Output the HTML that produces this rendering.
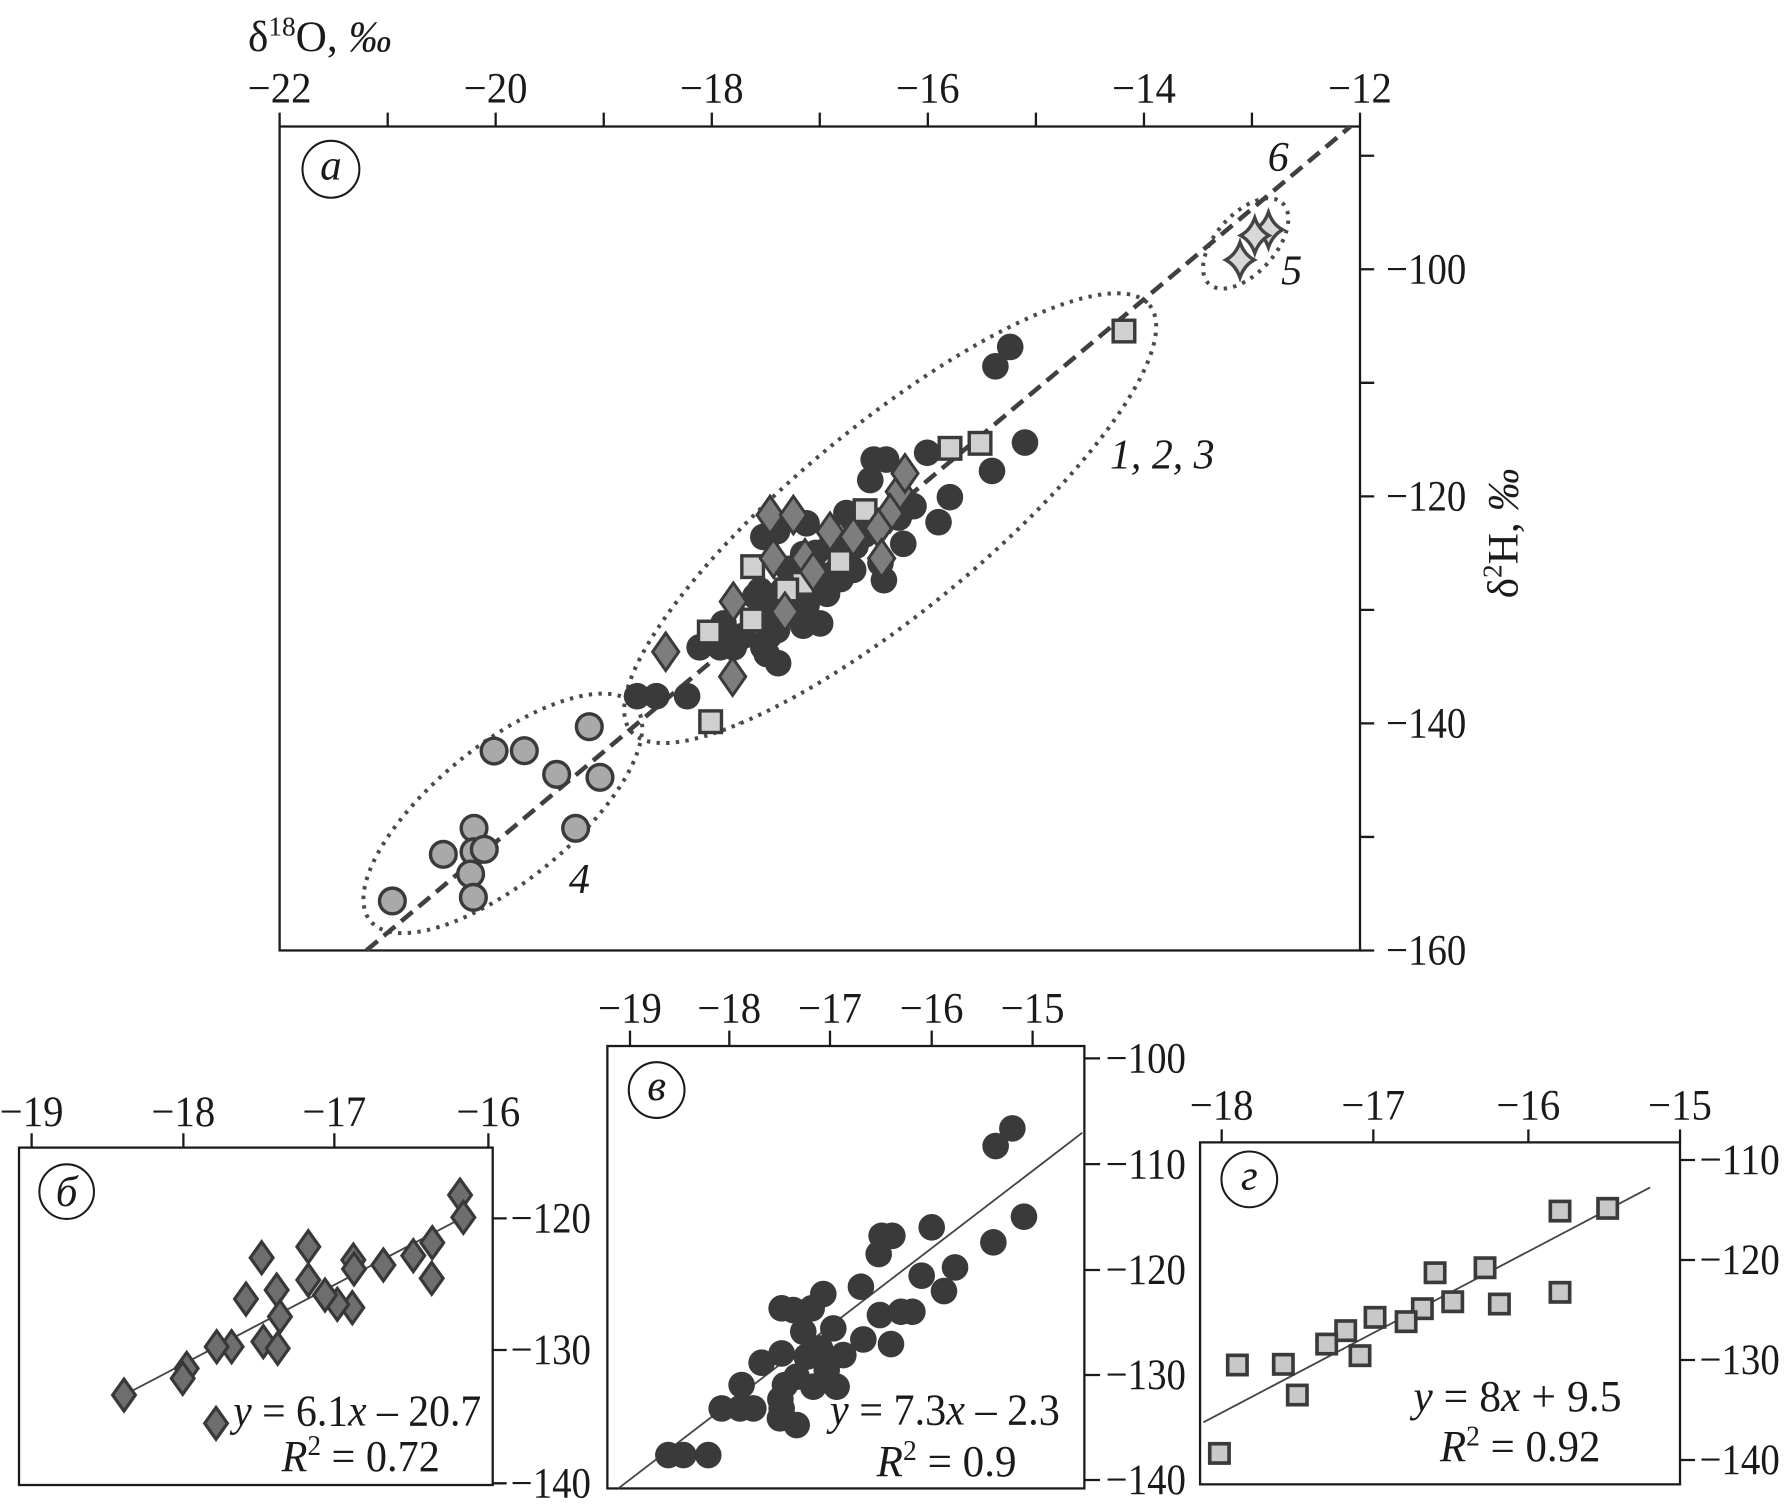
<!DOCTYPE html>
<html>
<head>
<meta charset="utf-8">
<style>
html,body{margin:0;padding:0;background:#ffffff;}
svg{display:block;}
svg text{font-family:"Liberation Serif","DejaVu Serif",serif;}
</style>
</head>
<body>
<svg width="1784" height="1508" viewBox="0 0 1568.2 1325.6" preserveAspectRatio="none" xmlns="http://www.w3.org/2000/svg" fill="#1a1a1a">
<rect x="0" y="0" width="1568.2" height="1325.6" fill="#ffffff"/>

<!-- ============ MAIN PANEL (a) ============ -->
<g stroke="#1a1a1a" stroke-width="2" fill="none">
  <rect x="245.8" y="111.2" width="949.7" height="724.3"/>
  <path d="M245.8,111.2V99 M340.8,111.2V99 M435.7,111.2V99 M530.7,111.2V99 M625.7,111.2V99 M720.6,111.2V99 M815.6,111.2V99 M910.6,111.2V99 M1005.6,111.2V99 M1100.5,111.2V99 M1195.5,111.2V99"/>
  <path d="M1195.5,136.9H1208 M1195.5,236.7H1208 M1195.5,336.5H1208 M1195.5,436.3H1208 M1195.5,536.1H1208 M1195.5,635.9H1208 M1195.5,735.7H1208 M1195.5,835.5H1208"/>
</g>
<g font-size="38" text-anchor="middle">
  <text x="245.8" y="90" textLength="56" lengthAdjust="spacingAndGlyphs">−22</text>
  <text x="435.7" y="90" textLength="56" lengthAdjust="spacingAndGlyphs">−20</text>
  <text x="625.7" y="90" textLength="56" lengthAdjust="spacingAndGlyphs">−18</text>
  <text x="815.6" y="90" textLength="56" lengthAdjust="spacingAndGlyphs">−16</text>
  <text x="1005.6" y="90" textLength="56" lengthAdjust="spacingAndGlyphs">−14</text>
  <text x="1195.5" y="90" textLength="56" lengthAdjust="spacingAndGlyphs">−12</text>
</g>
<g font-size="38">
  <text x="1218.5" y="249.2" textLength="70.5" lengthAdjust="spacingAndGlyphs">−100</text>
  <text x="1218.5" y="448.8" textLength="70.5" lengthAdjust="spacingAndGlyphs">−120</text>
  <text x="1218.5" y="648.4" textLength="70.5" lengthAdjust="spacingAndGlyphs">−140</text>
  <text x="1218.5" y="848" textLength="70.5" lengthAdjust="spacingAndGlyphs">−160</text>
</g>
<!-- axis titles -->
<text x="218" y="45" font-size="38">δ<tspan font-size="24" dy="-14">18</tspan><tspan dy="14">O, </tspan><tspan font-style="italic">‰</tspan></text>
<text x="1334" y="468.8" font-size="38" text-anchor="middle" transform="rotate(-90 1334 468.8)">δ<tspan font-size="24" dy="-14">2</tspan><tspan dy="14">H, </tspan><tspan font-style="italic">‰</tspan></text>

<!-- panel label a -->
<circle cx="290.9" cy="148.8" r="25" fill="none" stroke="#1a1a1a" stroke-width="1.8"/>
<text x="290.9" y="158" font-size="38" font-style="italic" text-anchor="middle">а</text>

<!-- dotted ellipses -->
<g fill="none" stroke="#4a4a4a" stroke-width="3.5" stroke-dasharray="3 5.5">
  <ellipse cx="782.5" cy="455.5" rx="295" ry="82" transform="rotate(-39.4 782.5 455.5)"/>
  <ellipse cx="442" cy="715" rx="150" ry="60" transform="rotate(-39 442 715)"/>
  <ellipse cx="1095" cy="214" rx="48" ry="26" transform="rotate(-48 1095 214)"/>
</g>
<!-- dashed line -->
<line x1="322" y1="835.5" x2="1187" y2="111.2" stroke="#404040" stroke-width="4" stroke-dasharray="13 7"/>

<!-- dark circles -->
<g fill="#3a3a3a">
  <circle cx="888" cy="305" r="11.7"/><circle cx="875" cy="322" r="11.7"/>
  <circle cx="901" cy="389" r="11.7"/><circle cx="872" cy="414" r="11.7"/>
  <circle cx="835" cy="437" r="11.7"/><circle cx="825" cy="459" r="11.7"/>
  <circle cx="815" cy="398" r="11.7"/><circle cx="768" cy="404" r="11.7"/>
  <circle cx="779" cy="404" r="11.7"/><circle cx="765" cy="422" r="11.7"/>
  <circle cx="803" cy="445" r="11.7"/><circle cx="794" cy="478" r="11.7"/>
  <circle cx="777" cy="510" r="11.7"/><circle cx="774" cy="495" r="11.7"/>
  <circle cx="750" cy="457" r="11.7"/><circle cx="744" cy="451" r="11.7"/>
  <circle cx="750" cy="501" r="11.7"/><circle cx="752" cy="480" r="11.7"/>
  <circle cx="671" cy="472" r="11.7"/><circle cx="683" cy="467" r="11.7"/>
  <circle cx="709" cy="460" r="11.7"/><circle cx="706" cy="487" r="11.7"/>
  <circle cx="717" cy="486" r="11.7"/><circle cx="720" cy="505" r="11.7"/>
  <circle cx="739" cy="509" r="11.7"/><circle cx="727" cy="522" r="11.7"/>
  <circle cx="668" cy="519" r="11.7"/><circle cx="688" cy="519" r="11.7"/>
  <circle cx="700" cy="533" r="11.7"/><circle cx="709" cy="532" r="11.7"/>
  <circle cx="681" cy="532" r="11.7"/><circle cx="664" cy="524" r="11.7"/>
  <circle cx="721" cy="548" r="11.7"/><circle cx="706" cy="550" r="11.7"/>
  <circle cx="683" cy="554" r="11.7"/><circle cx="671" cy="545" r="11.7"/>
  <circle cx="653" cy="559" r="11.7"/><circle cx="676" cy="559" r="11.7"/>
  <circle cx="636" cy="548" r="11.7"/><circle cx="615" cy="569" r="11.7"/>
  <circle cx="633" cy="569" r="11.7"/><circle cx="645" cy="569" r="11.7"/>
  <circle cx="671" cy="569" r="11.7"/><circle cx="674" cy="575" r="11.7"/>
  <circle cx="684" cy="583" r="11.7"/><circle cx="560" cy="612" r="11.7"/>
  <circle cx="577" cy="612" r="11.7"/><circle cx="604" cy="612" r="11.7"/>
  <circle cx="693" cy="500" r="11.7"/><circle cx="730" cy="480" r="11.7"/>
  <circle cx="760" cy="470" r="11.7"/><circle cx="790" cy="455" r="11.7"/>
</g>
<!-- light squares -->
<g fill="#d0d0d0" stroke="#3a3a3a" stroke-width="3">
  <rect x="978.5" y="281.5" width="19" height="19"/>
  <rect x="852" y="380.2" width="19" height="19"/>
  <rect x="825.6" y="384.6" width="19" height="19"/>
  <rect x="750.9" y="439.4" width="19" height="19"/>
  <rect x="728.9" y="484.2" width="19" height="19"/>
  <rect x="652.1" y="488.6" width="19" height="19"/>
  <rect x="696.1" y="503.3" width="19" height="19"/>
  <rect x="682" y="509.1" width="19" height="19"/>
  <rect x="651.8" y="535.5" width="19" height="19"/>
  <rect x="614" y="546.1" width="19" height="19"/>
  <rect x="615.2" y="624.9" width="19" height="19"/>
</g>
<!-- gray diamonds -->
<g fill="#7d7d7d" stroke="#3a3a3a" stroke-width="2.6">
  <path d="M0,-16.5L11.5,0L0,16.5L-11.5,0Z" transform="translate(790.5,432.2)"/>
  <path d="M0,-16.5L11.5,0L0,16.5L-11.5,0Z" transform="translate(795.5,416.1)"/>
  <path d="M0,-16.5L11.5,0L0,16.5L-11.5,0Z" transform="translate(676.9,452.7)"/>
  <path d="M0,-16.5L11.5,0L0,16.5L-11.5,0Z" transform="translate(697.4,452.7)"/>
  <path d="M0,-16.5L11.5,0L0,16.5L-11.5,0Z" transform="translate(729.6,467.4)"/>
  <path d="M0,-16.5L11.5,0L0,16.5L-11.5,0Z" transform="translate(750.1,471.8)"/>
  <path d="M0,-16.5L11.5,0L0,16.5L-11.5,0Z" transform="translate(782.3,451.2)"/>
  <path d="M0,-16.5L11.5,0L0,16.5L-11.5,0Z" transform="translate(772.1,464.4)"/>
  <path d="M0,-16.5L11.5,0L0,16.5L-11.5,0Z" transform="translate(679.8,490.8)"/>
  <path d="M0,-16.5L11.5,0L0,16.5L-11.5,0Z" transform="translate(707.6,490.8)"/>
  <path d="M0,-16.5L11.5,0L0,16.5L-11.5,0Z" transform="translate(714.9,502.5)"/>
  <path d="M0,-16.5L11.5,0L0,16.5L-11.5,0Z" transform="translate(775,490.8)"/>
  <path d="M0,-16.5L11.5,0L0,16.5L-11.5,0Z" transform="translate(644.6,528.9)"/>
  <path d="M0,-16.5L11.5,0L0,16.5L-11.5,0Z" transform="translate(690,537.7)"/>
  <path d="M0,-16.5L11.5,0L0,16.5L-11.5,0Z" transform="translate(585.2,572.9)"/>
  <path d="M0,-16.5L11.5,0L0,16.5L-11.5,0Z" transform="translate(644,594.8)"/>
</g>
<!-- light gray circles (group 4) -->
<g fill="#a9a9a9" stroke="#3a3a3a" stroke-width="3">
  <circle cx="518" cy="638.8" r="11.3"/><circle cx="434.3" cy="660.2" r="11.3"/>
  <circle cx="460.9" cy="659.9" r="11.3"/><circle cx="489.3" cy="680.7" r="11.3"/>
  <circle cx="527.4" cy="683.3" r="11.3"/><circle cx="416.7" cy="728.1" r="11.3"/>
  <circle cx="506" cy="728.1" r="11.3"/><circle cx="389.7" cy="751" r="11.3"/>
  <circle cx="416.7" cy="748.7" r="11.3"/><circle cx="425.7" cy="746.6" r="11.3"/>
  <circle cx="413.7" cy="768.3" r="11.3"/><circle cx="416.1" cy="788.8" r="11.3"/>
  <circle cx="344.9" cy="792" r="11.3"/>
</g>
<!-- stars (group 5) -->
<g fill="#d8d8d8" stroke="#444444" stroke-width="3">
  <path d="M1115,186.5 Q1118.75,197.35 1127.5,202 Q1118.75,206.65 1115,217.5 Q1111.25,206.65 1102.5,202 Q1111.25,197.35 1115,186.5Z"/>
  <path d="M1103,191.5 Q1106.75,202.35 1115.5,207 Q1106.75,211.65 1103,222.5 Q1099.25,211.65 1090.5,207 Q1099.25,202.35 1103,191.5Z"/>
  <path d="M1090,213 Q1093.75,223.85 1102.5,228.5 Q1093.75,233.15 1090,244 Q1086.25,233.15 1077.5,228.5 Q1086.25,223.85 1090,213Z"/>
</g>
<!-- group labels -->
<g font-size="37" font-style="italic">
  <text x="975.7" y="412" textLength="92" lengthAdjust="spacingAndGlyphs">1, 2, 3</text>
  <text x="509.3" y="785" text-anchor="middle">4</text>
  <text x="1135.4" y="250" text-anchor="middle">5</text>
  <text x="1123.7" y="150.5" text-anchor="middle">6</text>
</g>

<!-- ============ PANEL б ============ -->
<g stroke="#1a1a1a" stroke-width="2" fill="none">
  <rect x="16.7" y="1008.8" width="416.4" height="296.6"/>
  <path d="M27.8,1008.8V996.2 M161.2,1008.8V996.2 M293.9,1008.8V996.2 M429.3,1008.8V996.2"/>
  <path d="M433.1,1071H445.4 M433.1,1186.7H445.4 M433.1,1303.9H445.4"/>
</g>
<g font-size="38" text-anchor="middle">
  <text x="27.8" y="989.7" textLength="56" lengthAdjust="spacingAndGlyphs">−19</text>
  <text x="161.2" y="989.7" textLength="56" lengthAdjust="spacingAndGlyphs">−18</text>
  <text x="293.9" y="989.7" textLength="56" lengthAdjust="spacingAndGlyphs">−17</text>
  <text x="429.3" y="989.7" textLength="56" lengthAdjust="spacingAndGlyphs">−16</text>
</g>
<g font-size="38">
  <text x="449" y="1083.5" textLength="70.5" lengthAdjust="spacingAndGlyphs">−120</text>
  <text x="449" y="1199.2" textLength="70.5" lengthAdjust="spacingAndGlyphs">−130</text>
  <text x="449" y="1316.4" textLength="70.5" lengthAdjust="spacingAndGlyphs">−140</text>
</g>
<circle cx="58.6" cy="1047.5" r="24" fill="none" stroke="#1a1a1a" stroke-width="1.8"/>
<text x="58.6" y="1060" font-size="38" font-style="italic" text-anchor="middle">б</text>
<line x1="109" y1="1226.3" x2="407.3" y2="1070.1" stroke="#444444" stroke-width="1.6"/>
<g fill="#6e6e6e" stroke="#383838" stroke-width="2.8">
  <path d="M0,-14L10,0L0,14L-10,0Z" transform="translate(404.4,1050.5)"/>
  <path d="M0,-14L10,0L0,14L-10,0Z" transform="translate(407.3,1070.1)"/>
  <path d="M0,-14L10,0L0,14L-10,0Z" transform="translate(380,1092.4)"/>
  <path d="M0,-14L10,0L0,14L-10,0Z" transform="translate(363.3,1103.8)"/>
  <path d="M0,-14L10,0L0,14L-10,0Z" transform="translate(379.5,1123.7)"/>
  <path d="M0,-14L10,0L0,14L-10,0Z" transform="translate(337,1112)"/>
  <path d="M0,-14L10,0L0,14L-10,0Z" transform="translate(310.6,1107.6)"/>
  <path d="M0,-14L10,0L0,14L-10,0Z" transform="translate(311.2,1115.5)"/>
  <path d="M0,-14L10,0L0,14L-10,0Z" transform="translate(309.7,1149.5)"/>
  <path d="M0,-14L10,0L0,14L-10,0Z" transform="translate(296.5,1146.6)"/>
  <path d="M0,-14L10,0L0,14L-10,0Z" transform="translate(285.7,1138.4)"/>
  <path d="M0,-14L10,0L0,14L-10,0Z" transform="translate(271,1095.9)"/>
  <path d="M0,-14L10,0L0,14L-10,0Z" transform="translate(271,1125.2)"/>
  <path d="M0,-14L10,0L0,14L-10,0Z" transform="translate(230,1105.6)"/>
  <path d="M0,-14L10,0L0,14L-10,0Z" transform="translate(243.2,1134)"/>
  <path d="M0,-14L10,0L0,14L-10,0Z" transform="translate(216.2,1141.9)"/>
  <path d="M0,-14L10,0L0,14L-10,0Z" transform="translate(246.1,1157.4)"/>
  <path d="M0,-14L10,0L0,14L-10,0Z" transform="translate(231.5,1179.4)"/>
  <path d="M0,-14L10,0L0,14L-10,0Z" transform="translate(244.1,1185.3)"/>
  <path d="M0,-14L10,0L0,14L-10,0Z" transform="translate(203.6,1183.8)"/>
  <path d="M0,-14L10,0L0,14L-10,0Z" transform="translate(190.5,1183.8)"/>
  <path d="M0,-14L10,0L0,14L-10,0Z" transform="translate(164.1,1202.9)"/>
  <path d="M0,-14L10,0L0,14L-10,0Z" transform="translate(160.6,1211.6)"/>
  <path d="M0,-14L10,0L0,14L-10,0Z" transform="translate(109,1226.3)"/>
  <path d="M0,-14L10,0L0,14L-10,0Z" transform="translate(189.9,1251.2)"/>
</g>
<g font-size="39">
  <text x="205" y="1253" textLength="218" lengthAdjust="spacingAndGlyphs"><tspan font-style="italic">y</tspan> = 6.1<tspan font-style="italic">x</tspan> – 20.7</text>
  <text x="247.6" y="1293" textLength="139" lengthAdjust="spacingAndGlyphs"><tspan font-style="italic">R</tspan><tspan font-size="25" dy="-14">2</tspan><tspan dy="14"> = 0.72</tspan></text>
</g>

<!-- ============ PANEL в ============ -->
<g stroke="#1a1a1a" stroke-width="2" fill="none">
  <rect x="533.9" y="919.5" width="419.3" height="388.9"/>
  <path d="M553.8,919.5V906 M641.1,919.5V906 M729.6,919.5V906 M819,919.5V906 M907.7,919.5V906"/>
  <path d="M953.2,930.4H967 M953.2,1023.3H967 M953.2,1116.4H967 M953.2,1208.7H967 M953.2,1301H967"/>
</g>
<g font-size="38" text-anchor="middle">
  <text x="553.8" y="898.9" textLength="56" lengthAdjust="spacingAndGlyphs">−19</text>
  <text x="641.1" y="898.9" textLength="56" lengthAdjust="spacingAndGlyphs">−18</text>
  <text x="729.6" y="898.9" textLength="56" lengthAdjust="spacingAndGlyphs">−17</text>
  <text x="819" y="898.9" textLength="56" lengthAdjust="spacingAndGlyphs">−16</text>
  <text x="907.7" y="898.9" textLength="56" lengthAdjust="spacingAndGlyphs">−15</text>
</g>
<g font-size="38">
  <text x="972" y="942.9" textLength="70.5" lengthAdjust="spacingAndGlyphs">−100</text>
  <text x="972" y="1035.8" textLength="70.5" lengthAdjust="spacingAndGlyphs">−110</text>
  <text x="972" y="1128.9" textLength="70.5" lengthAdjust="spacingAndGlyphs">−120</text>
  <text x="972" y="1221.2" textLength="70.5" lengthAdjust="spacingAndGlyphs">−130</text>
  <text x="972" y="1313.5" textLength="70.5" lengthAdjust="spacingAndGlyphs">−140</text>
</g>
<circle cx="577.2" cy="958.2" r="24.5" fill="none" stroke="#1a1a1a" stroke-width="1.8"/>
<text x="577.2" y="967" font-size="38" font-style="italic" text-anchor="middle">в</text>
<line x1="543.5" y1="1308.4" x2="951.4" y2="995.7" stroke="#444444" stroke-width="1.6"/>
<g fill="#3a3a3a">
  <circle cx="889.9" cy="991.9" r="11.7"/><circle cx="875.2" cy="1007.4" r="11.7"/>
  <circle cx="900.1" cy="1069.5" r="11.7"/><circle cx="873.2" cy="1092.1" r="11.7"/>
  <circle cx="819" cy="1078.9" r="11.7"/><circle cx="784.4" cy="1086.3" r="11.7"/>
  <circle cx="775" cy="1086.3" r="11.7"/><circle cx="772.4" cy="1102.4" r="11.7"/>
  <circle cx="839.5" cy="1114.1" r="11.7"/><circle cx="810.2" cy="1121.4" r="11.7"/>
  <circle cx="829.8" cy="1134.9" r="11.7"/><circle cx="756.8" cy="1131.1" r="11.7"/>
  <circle cx="723.7" cy="1137.5" r="11.7"/><circle cx="713.5" cy="1150.1" r="11.7"/>
  <circle cx="687.1" cy="1150.1" r="11.7"/><circle cx="697.3" cy="1151.6" r="11.7"/>
  <circle cx="802" cy="1153.1" r="11.7"/><circle cx="792" cy="1153.1" r="11.7"/>
  <circle cx="773.5" cy="1156" r="11.7"/><circle cx="732.5" cy="1167.7" r="11.7"/>
  <circle cx="706.1" cy="1170.6" r="11.7"/><circle cx="758.9" cy="1177.4" r="11.7"/>
  <circle cx="783.2" cy="1181.5" r="11.7"/><circle cx="741.3" cy="1191.2" r="11.7"/>
  <circle cx="720.8" cy="1185.3" r="11.7"/><circle cx="687.1" cy="1189.7" r="11.7"/>
  <circle cx="669.5" cy="1197.9" r="11.7"/><circle cx="709.1" cy="1192.6" r="11.7"/>
  <circle cx="726.7" cy="1204.3" r="11.7"/><circle cx="714.9" cy="1219" r="11.7"/>
  <circle cx="735.4" cy="1219" r="11.7"/><circle cx="690" cy="1217.5" r="11.7"/>
  <circle cx="700.3" cy="1210.2" r="11.7"/><circle cx="651.9" cy="1217.5" r="11.7"/>
  <circle cx="634.4" cy="1238.1" r="11.7"/><circle cx="650.5" cy="1238.1" r="11.7"/>
  <circle cx="662.2" cy="1238.1" r="11.7"/><circle cx="687.1" cy="1238.1" r="11.7"/>
  <circle cx="685.6" cy="1246.8" r="11.7"/><circle cx="700.3" cy="1252.7" r="11.7"/>
  <circle cx="587.5" cy="1279.1" r="11.7"/><circle cx="600.7" cy="1279.1" r="11.7"/>
  <circle cx="622.6" cy="1279.1" r="11.7"/><circle cx="686" cy="1230" r="11.7"/>
</g>
<g font-size="39">
  <text x="729.6" y="1252" textLength="202" lengthAdjust="spacingAndGlyphs"><tspan font-style="italic">y</tspan> = 7.3<tspan font-style="italic">x</tspan> – 2.3</text>
  <text x="770.6" y="1297.5" textLength="123" lengthAdjust="spacingAndGlyphs"><tspan font-style="italic">R</tspan><tspan font-size="25" dy="-14">2</tspan><tspan dy="14"> = 0.9</tspan></text>
</g>

<!-- ============ PANEL г ============ -->
<g stroke="#1a1a1a" stroke-width="2" fill="none">
  <rect x="1054.9" y="1004.2" width="421.9" height="300.6"/>
  <path d="M1073.9,1004.2V992.8 M1207.2,1004.2V992.8 M1343.5,1004.2V992.8 M1476.8,1004.2V992.8"/>
  <path d="M1476.8,1019.7H1490 M1476.8,1107.6H1490 M1476.8,1195.5H1490 M1476.8,1283.4H1490"/>
</g>
<g font-size="38" text-anchor="middle">
  <text x="1073.9" y="983.9" textLength="56" lengthAdjust="spacingAndGlyphs">−18</text>
  <text x="1207.2" y="983.9" textLength="56" lengthAdjust="spacingAndGlyphs">−17</text>
  <text x="1343.5" y="983.9" textLength="56" lengthAdjust="spacingAndGlyphs">−16</text>
  <text x="1476.8" y="983.9" textLength="56" lengthAdjust="spacingAndGlyphs">−15</text>
</g>
<g font-size="38">
  <text x="1494" y="1032.2" textLength="70.5" lengthAdjust="spacingAndGlyphs">−110</text>
  <text x="1494" y="1120.1" textLength="70.5" lengthAdjust="spacingAndGlyphs">−120</text>
  <text x="1494" y="1208" textLength="70.5" lengthAdjust="spacingAndGlyphs">−130</text>
  <text x="1494" y="1295.9" textLength="70.5" lengthAdjust="spacingAndGlyphs">−140</text>
</g>
<circle cx="1098.2" cy="1036.7" r="24.5" fill="none" stroke="#1a1a1a" stroke-width="1.8"/>
<text x="1098.2" y="1045.5" font-size="38" font-style="italic" text-anchor="middle">г</text>
<line x1="1057.8" y1="1250.3" x2="1450.5" y2="1043.8" stroke="#444444" stroke-width="1.6"/>
<g fill="#c8c8c8" stroke="#3a3a3a" stroke-width="3.2">
  <rect x="-8.5" y="-8.5" width="17" height="17" transform="translate(1413.2,1062.2)"/>
  <rect x="-8.5" y="-8.5" width="17" height="17" transform="translate(1371.3,1064.6)"/>
  <rect x="-8.5" y="-8.5" width="17" height="17" transform="translate(1371.3,1136)"/>
  <rect x="-8.5" y="-8.5" width="17" height="17" transform="translate(1305.4,1114.4)"/>
  <rect x="-8.5" y="-8.5" width="17" height="17" transform="translate(1318,1146.3)"/>
  <rect x="-8.5" y="-8.5" width="17" height="17" transform="translate(1277,1144.3)"/>
  <rect x="-8.5" y="-8.5" width="17" height="17" transform="translate(1261.5,1118.8)"/>
  <rect x="-8.5" y="-8.5" width="17" height="17" transform="translate(1250.3,1150.4)"/>
  <rect x="-8.5" y="-8.5" width="17" height="17" transform="translate(1236,1161.8)"/>
  <rect x="-8.5" y="-8.5" width="17" height="17" transform="translate(1208.7,1158)"/>
  <rect x="-8.5" y="-8.5" width="17" height="17" transform="translate(1182.9,1169.7)"/>
  <rect x="-8.5" y="-8.5" width="17" height="17" transform="translate(1166.2,1181.5)"/>
  <rect x="-8.5" y="-8.5" width="17" height="17" transform="translate(1195.5,1191.7)"/>
  <rect x="-8.5" y="-8.5" width="17" height="17" transform="translate(1128.1,1199.3)"/>
  <rect x="-8.5" y="-8.5" width="17" height="17" transform="translate(1087.7,1199.9)"/>
  <rect x="-8.5" y="-8.5" width="17" height="17" transform="translate(1140.4,1226.3)"/>
  <rect x="-8.5" y="-8.5" width="17" height="17" transform="translate(1071.9,1277.6)"/>
</g>
<g font-size="39">
  <text x="1242.4" y="1240.5" textLength="183" lengthAdjust="spacingAndGlyphs"><tspan font-style="italic">y</tspan> = 8<tspan font-style="italic">x</tspan> + 9.5</text>
  <text x="1265.8" y="1284.5" textLength="141" lengthAdjust="spacingAndGlyphs"><tspan font-style="italic">R</tspan><tspan font-size="25" dy="-14">2</tspan><tspan dy="14"> = 0.92</tspan></text>
</g>
</svg>
</body>
</html>
